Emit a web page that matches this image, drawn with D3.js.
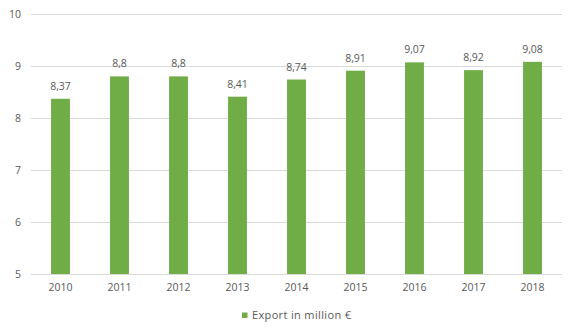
<!DOCTYPE html>
<html><head><meta charset="utf-8">
<script src="https://cdn.jsdelivr.net/npm/d3@7"></script>
<style>body{margin:0;background:#fff}text{font-family:"Open Sans","Liberation Sans",sans-serif;fill:#595959}</style>
</head><body>
<svg id="c" width="576" height="336"></svg>
<script>
const years = ["2010","2011","2012","2013","2014","2015","2016","2017","2018"];
const exportValues = [8.37, 8.8, 8.8, 8.41, 8.74, 8.91, 9.07, 8.92, 9.08];
const valueLabels = ["8,37","8,8","8,8","8,41","8,74","8,91","9,07","8,92","9,08"];
const yTicks = [5,6,7,8,9,10];
const seriesName = "Export in million €";

const svg = d3.select("#c");
const m = {l:31, r:14, t:14, b:62};
const W = 576, H = 336;
const x = d3.scaleBand().domain(years).range([m.l, W-m.r]).paddingInner(0.68).paddingOuter(0.34);
const y = d3.scaleLinear().domain([5,10]).range([H-m.b, m.t]);

const grid = svg.append("g");
grid.selectAll("line").data(yTicks).enter().append("line")
  .attr("x1", m.l).attr("x2", W-m.r)
  .attr("y1", d=>y(d)+0.5).attr("y2", d=>y(d)+0.5)
  .attr("stroke", "#d9d9d9").attr("stroke-width", 1);

const yAxis = svg.append("g").attr("transform", `translate(${m.l},0)`)
  .call(d3.axisLeft(y).tickValues(yTicks).tickFormat(d3.format("d")).tickSize(0).tickPadding(10));
yAxis.select(".domain").remove();
yAxis.selectAll("text").attr("font-size", 10.5).style("fill","#595959");

const xAxis = svg.append("g").attr("transform", `translate(0,${H-m.b})`)
  .call(d3.axisBottom(x).tickSize(0).tickPadding(10));
xAxis.select(".domain").remove();
xAxis.selectAll("text").attr("font-size", 10.5).style("fill","#595959");

svg.append("g").selectAll("text").data(exportValues).enter().append("text")
  .attr("x", (d,i)=>x(years[i])+x.bandwidth()/2)
  .attr("y", d=>y(d)-9)
  .attr("text-anchor","middle").attr("font-size",10.5)
  .text((d,i)=>valueLabels[i]);

svg.append("g").selectAll("rect").data(exportValues).enter().append("rect")
  .attr("x", (d,i)=>x(years[i])).attr("width", x.bandwidth())
  .attr("y", d=>y(d)).attr("height", d=>y(5)-y(d))
  .attr("fill", "#70ad47");

const lg = svg.append("g");
lg.append("rect").attr("x",242).attr("y",312.5).attr("width",5.5).attr("height",5.5).attr("fill","#70ad47");
lg.append("text").attr("x",252).attr("y",319).attr("font-size",11).attr("letter-spacing",0.35).text(seriesName);
</script>
</body></html>
